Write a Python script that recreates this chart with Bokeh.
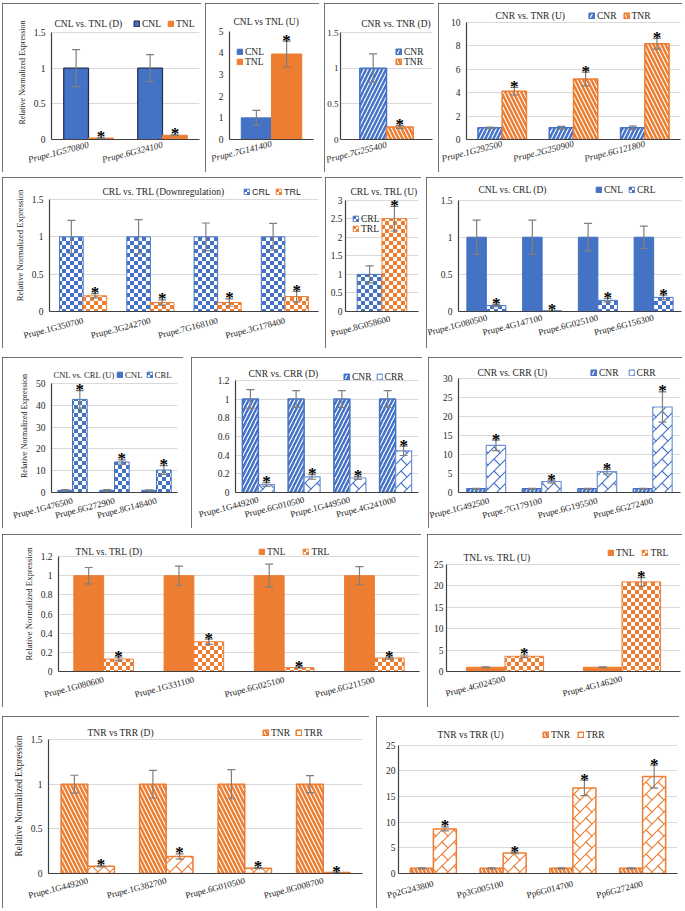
import math
from bokeh.plotting import figure
from bokeh.models import (FactorRange, Range1d, FixedTicker, NumeralTickFormatter,
                          ColumnDataSource, Legend, LegendItem, Spacer, CanvasTexture, Label)
from bokeh.transform import dodge
from bokeh.layouts import row, column
from bokeh.core.properties import value
from bokeh.embed import file_html
from bokeh.resources import INLINE

# ---------------- data ----------------
p1_genes = ["Prupe.1G570800", "Prupe.6G324100"]
p1_cnl = [1.0, 1.0]; p1_cnl_err = [0.26, 0.19]
p1_tnl = [0.02, 0.06]; p1_tnl_err = [0.004, 0.006]

p2_genes = ["Prupe.7G141400"]
p2_cnl = [1.0]; p2_cnl_err = [0.35]
p2_tnl = [3.95]; p2_tnl_err = [0.6]

p3_genes = ["Prupe.7G255400"]
p3_cnr = [1.0]; p3_cnr_err = [0.2]
p3_tnr = [0.175]; p3_tnr_err = [0.02]

p4_genes = ["Prupe.1G292500", "Prupe.2G250900", "Prupe.6G121800"]
p4_cnr = [1.0, 1.0, 1.0]; p4_cnr_err = [0.05, 0.12, 0.15]
p4_tnr = [4.12, 5.16, 8.18]; p4_tnr_err = [0.32, 0.58, 0.46]

p5_genes = ["Prupe.1G350700", "Prupe.3G242700", "Prupe.7G168100", "Prupe.3G178400"]
p5_crl = [1.0, 1.0, 1.0, 1.0]; p5_crl_err = [0.22, 0.23, 0.185, 0.18]
p5_trl = [0.21, 0.12, 0.12, 0.2]; p5_trl_err = [0.03, 0.035, 0.05, 0.07]

p6_genes = ["Prupe.8G058600"]
p6_crl = [1.0]; p6_crl_err = [0.23]
p6_trl = [2.5]; p6_trl_err = [0.33]

p7_genes = ["Prupe.1G080500", "Prupe.4G147100", "Prupe.6G025100", "Prupe.6G156300"]
p7_cnl = [1.0, 1.0, 1.0, 1.0]; p7_cnl_err = [0.23, 0.23, 0.185, 0.15]
p7_crl = [0.08, 0.01, 0.15, 0.19]; p7_crl_err = [0.015, 0.003, 0.025, 0.03]

p8_genes = ["Prupe.1G476500", "Prupe.6G272900", "Prupe.8G148400"]
p8_cnl = [1.0, 1.0, 1.0]; p8_cnl_err = [0.3, 0.3, 0.2]
p8_crl = [42.7, 14.0, 10.3]; p8_crl_err = [4.0, 1.0, 2.0]

p9_genes = ["Prupe.1G449200", "Prupe.6G010500", "Prupe.1G449500", "Prupe.4G241000"]
p9_cnr = [1.0, 1.0, 1.0, 1.0]; p9_cnr_err = [0.1, 0.09, 0.09, 0.09]
p9_crr = [0.085, 0.167, 0.155, 0.446]; p9_crr_err = [0.02, 0.025, 0.015, 0.05]

p10_genes = ["Prupe.1G492500", "Prupe.7G179100", "Prupe.6G195500", "Prupe.6G272400"]
p10_cnr = [1.0, 1.0, 1.0, 1.0]; p10_cnr_err = [0.1, 0.1, 0.1, 0.1]
p10_crr = [12.4, 2.9, 5.5, 22.5]; p10_crr_err = [1.4, 0.35, 0.6, 4.0]

p11_genes = ["Prupe.1G080600", "Prupe.1G331100", "Prupe.6G025100", "Prupe.6G211500"]
p11_tnl = [1.0, 1.0, 1.0, 1.0]; p11_tnl_err = [0.085, 0.1, 0.12, 0.095]
p11_trl = [0.13, 0.31, 0.04, 0.14]; p11_trl_err = [0.02, 0.027, 0.005, 0.01]

p12_genes = ["Prupe.4G024500", "Prupe.4G146200"]
p12_tnl = [1.0, 1.0]; p12_tnl_err = [0.1, 0.1]
p12_trl = [3.55, 20.9]; p12_trl_err = [0.3, 1.0]

p13_genes = ["Prupe.1G449200", "Prupe.1G382700", "Prupe.6G010500", "Prupe.8G008700"]
p13_tnr = [1.0, 1.0, 1.0, 1.0]; p13_tnr_err = [0.1, 0.155, 0.163, 0.095]
p13_trr = [0.08, 0.19, 0.06, 0.01]; p13_trr_err = [0.005, 0.03, 0.005, 0.002]

p14_genes = ["Pp2G243800", "Pp3G005100", "Pp6G014700", "Pp6G272400"]
p14_tnr = [1.0, 1.0, 1.0, 1.0]; p14_tnr_err = [0.1, 0.1, 0.1, 0.1]
p14_trr = [8.7, 4.0, 16.7, 18.9]; p14_trr_err = [0.4, 0.15, 1.5, 2.25]

# ---------------- styles ----------------
BLUE = "#4472C4"
ORANGE = "#ED7D31"
ERR = "#7F7F7F"
AXIS = "#404040"
GRID = "#D9D9D9"
TXT = "#262626"
SERIF = "Liberation Serif"
SANS = "Liberation Sans"
ANGLE = 0.25


def checker(color):
    code = ("var c = ctx.canvas; if (c) { c.width = 8; c.height = 8; }"
            "ctx.clearRect(0,0,8,8); ctx.fillStyle='%s';"
            "ctx.fillRect(0,0,4,4); ctx.fillRect(4,4,4,4);") % color
    return CanvasTexture(code=code)


def brick(color):
    code = ("var c = ctx.canvas; if (c) { c.width = 12; c.height = 12; }"
            "ctx.clearRect(0,0,12,12); ctx.strokeStyle='%s'; ctx.lineWidth=1.1;"
            "ctx.beginPath(); ctx.moveTo(-1,13); ctx.lineTo(13,-1);"
            "ctx.moveTo(6,6); ctx.lineTo(13,13); ctx.moveTo(-1,-1); ctx.lineTo(0.5,0.5);"
            "ctx.stroke();") % color
    return CanvasTexture(code=code)


def style_kw(style):
    if style == "solid_blue":
        return dict(fill_color=BLUE, line_color=BLUE, line_width=1)
    if style == "solid_blue_edge":
        return dict(fill_color=BLUE, line_color="#1F2D4F", line_width=1.2)
    if style == "solid_orange":
        return dict(fill_color=ORANGE, line_color=ORANGE, line_width=1)
    if style == "stripe_blue":
        return dict(fill_color="white", line_color=BLUE, line_width=1.5,
                    hatch_pattern="/", hatch_color=BLUE, hatch_scale=8, hatch_weight=2.5)
    if style == "stripe_orange":
        return dict(fill_color="white", line_color=ORANGE, line_width=1.5,
                    hatch_pattern="\\", hatch_color=ORANGE, hatch_scale=8, hatch_weight=2.5)
    if style == "checker_blue":
        return dict(fill_color="white", line_color=BLUE, line_width=1,
                    hatch_pattern=value("checker"), hatch_extra={"checker": checker(BLUE)},
                    hatch_scale=8, hatch_color=BLUE)
    if style == "checker_orange":
        return dict(fill_color="white", line_color=ORANGE, line_width=1,
                    hatch_pattern=value("checker"), hatch_extra={"checker": checker(ORANGE)},
                    hatch_scale=8, hatch_color=ORANGE)
    if style == "brick_blue":
        return dict(fill_color="white", line_color="#6F93D6", line_width=1.2,
                    hatch_pattern=value("brick"), hatch_extra={"brick": brick(BLUE)},
                    hatch_scale=12, hatch_color=BLUE)
    if style == "brick_orange":
        return dict(fill_color="white", line_color=ORANGE, line_width=1.5,
                    hatch_pattern=value("brick"), hatch_extra={"brick": brick(ORANGE)},
                    hatch_scale=12, hatch_color=ORANGE)
    raise ValueError(style)


def panel(box, frame, genes, series, names, styles, ymax, ystep, title, tpos,
          leg, bar_w, ylabel=None, ylabel_size="8px", italic=False, grid=True,
          tick_size="9.5px", tick_standoff=6, xl_size="9px", leg_font=SERIF, leg_size="9.5px",
          title_size="9.5px"):
    px0, px1, py0, py1 = box
    fl, fr, ft, fb = frame                 # plot area: left, right, y of ymax, y of zero
    W = px1 - px0
    H = py1 - py0
    ppu = (fb - ft) / ymax                 # pixels per data unit of the plot area
    top = py0 + 2                          # frame top (inside the border)
    ytop = (fb - top) / ppu
    cat_px = (fr - fl) / len(genes)
    p = figure(width=W, height=H, x_range=FactorRange(factors=genes), y_range=Range1d(0, ytop),
               min_border_left=fl - px0, min_border_right=px1 - fr,
               min_border_top=top - py0, min_border_bottom=py1 - fb,
               output_backend="svg", toolbar_location=None, tools="", title=None,
               background_fill_color="white", border_fill_color="white")
    p.styles = {"outline": "1.5px solid #444444", "outline-offset": "-1.5px"}
    p.outline_line_color = None

    rends = []
    for k, ((vals, errs), st) in enumerate(zip(series, styles)):
        off = (k - 0.5) * bar_w
        src = ColumnDataSource(dict(gene=genes, v=vals,
                                    lo=[v - e for v, e in zip(vals, errs)],
                                    hi=[v + e for v, e in zip(vals, errs)]))
        xs = dodge("gene", off, range=p.x_range)
        r = p.vbar(x=xs, top="v", bottom=0, width=bar_w, source=src, **style_kw(st))
        rends.append(r)
        p.segment(x0=xs, y0="lo", x1=xs, y1="hi", source=src, line_color=ERR, line_width=1.2)
        p.scatter(x=xs, y="hi", marker="dash", size=8, line_color=ERR, line_width=1.2, source=src)
        p.scatter(x=xs, y="lo", marker="dash", size=8, line_color=ERR, line_width=1.2, source=src)
        if k == 1:
            p.text(x=xs, y="hi", text=value("*"), source=src, text_align="center",
                   text_baseline="alphabetic", text_font=value(SERIF), text_font_style="bold",
                   text_font_size="17px", text_color="black", y_offset=-1)

    # title (inside the frame area above the plot)
    p.add_layout(Label(x=(tpos[0] - fl) / cat_px, y=(fb - tpos[1]) / ppu, text=title,
                       text_baseline="middle", text_align="left", text_font=SERIF,
                       text_font_size=title_size, text_color=TXT))

    # legend
    orient, lx, ly, spacing = leg
    items = [LegendItem(label=n, renderers=[r]) for n, r in zip(names, rends)]
    legend = Legend(items=items, orientation=orient, location=(lx - fl, fb - ly - 5.5),
                    padding=0, margin=0, spacing=spacing, glyph_width=7, glyph_height=7,
                    label_standoff=2, label_height=8, label_width=8,
                    label_text_font=leg_font, label_text_font_size=leg_size,
                    label_text_color=TXT, border_line_color=None, background_fill_alpha=0)
    p.add_layout(legend)

    # x axis: keep rotated labels inside the space below the plot
    avail = py1 - fb
    w_est = 4.4 * max(len(g) for g in genes)
    extent = w_est * math.sin(ANGLE) + 10 * math.cos(ANGLE) + 1.5
    standoff = int(max(2, min(12, avail - extent - 1)))
    xa = p.xaxis[0]
    xa.major_label_orientation = ANGLE
    xa.major_tick_line_color = None
    xa.minor_tick_line_color = None
    xa.major_tick_out = 0
    xa.major_tick_in = 0
    xa.axis_line_color = AXIS
    xa.axis_line_width = 1.2
    xa.major_label_text_font = SERIF
    xa.major_label_text_font_size = xl_size
    xa.major_label_text_font_style = "italic" if italic else "normal"
    xa.major_label_text_color = TXT
    xa.major_label_standoff = standoff

    ya = p.yaxis[0]
    n = int(round(ymax / ystep))
    ya.ticker = FixedTicker(ticks=[round(i * ystep, 6) for i in range(n + 1)])
    ya.formatter = NumeralTickFormatter(format="0.[0]")
    ya.bounds = (0, ymax)
    ya.major_tick_line_color = None
    ya.minor_tick_line_color = None
    ya.major_tick_out = 0
    ya.major_tick_in = 0
    ya.axis_line_color = AXIS
    ya.axis_line_width = 1.2
    ya.major_label_text_font = SERIF
    ya.major_label_text_font_size = tick_size
    ya.major_label_text_color = TXT
    ya.major_label_standoff = tick_standoff
    if ylabel:
        ya.axis_label = ylabel
        ya.axis_label_text_font = SERIF
        ya.axis_label_text_font_style = "normal"
        ya.axis_label_text_font_size = ylabel_size
        ya.axis_label_text_color = TXT
        ya.axis_label_standoff = 4

    p.xgrid.grid_line_color = None
    p.ygrid.grid_line_color = GRID if grid else None
    p.ygrid.grid_line_width = 1
    return p


YL = "Relative Normalized Expression"

P1 = panel((2, 201, 3, 172), (51, 199, 32, 139), p1_genes,
           [(p1_cnl, p1_cnl_err), (p1_tnl, p1_tnl_err)], ["CNL", "TNL"],
           ["solid_blue_edge", "solid_orange"], 1.5, 0.5, "CNL vs. TNL (D)", (54, 23),
           ("horizontal", 133, 23, 6), 0.335, ylabel=YL, ylabel_size="8px", italic=True)
P2 = panel((205, 319, 3, 172), (229, 313, 31, 140), p2_genes,
           [(p2_cnl, p2_cnl_err), (p2_tnl, p2_tnl_err)], ["CNL", "TNL"],
           ["solid_blue", "solid_orange"], 5, 1, "CNL vs TNL (U)", (233, 22),
           ("vertical", 236, 62, 0), 0.36, italic=True, grid=False)
P3 = panel((324, 434, 3, 172), (339, 432, 32, 139), p3_genes,
           [(p3_cnr, p3_cnr_err), (p3_tnr, p3_tnr_err)], ["CNR", "TNR"],
           ["stripe_blue", "stripe_orange"], 1.5, 0.5, "CNR vs. TNR (D)", (360, 23),
           ("vertical", 394, 61, 0), 0.29, italic=True, tick_size="9px", tick_standoff=2)
P4 = panel((438, 682, 3, 172), (466, 680, 22, 140), p4_genes,
           [(p4_cnr, p4_cnr_err), (p4_tnr, p4_tnr_err)], ["CNR", "TNR"],
           ["stripe_blue", "stripe_orange"], 10, 2, "CNR vs. TNR (U)", (495, 16),
           ("horizontal", 588, 16, 6), 0.34, italic=True)

P5 = panel((2, 322, 177, 348), (49, 318, 199, 311), p5_genes,
           [(p5_crl, p5_crl_err), (p5_trl, p5_trl_err)], ["CRL", "TRL"],
           ["checker_blue", "checker_orange"], 1.5, 0.5, "CRL vs. TRL (Downregulation)", (102, 191),
           ("horizontal", 243, 191, 5), 0.35, ylabel=YL, ylabel_size="8.6px",
           leg_font=SANS, leg_size="9px")
P6 = panel((325, 421, 177, 348), (345, 418, 200, 313), p6_genes,
           [(p6_crl, p6_crl_err), (p6_trl, p6_trl_err)], ["CRL", "TRL"],
           ["checker_blue", "checker_orange"], 3, 0.5, "CRL vs. TRL (U)", (350, 192),
           ("vertical", 352, 230, 0), 0.34, tick_standoff=3)
P7 = panel((426, 683, 177, 348), (458, 681, 200, 314), p7_genes,
           [(p7_cnl, p7_cnl_err), (p7_crl, p7_crl_err)], ["CNL", "CRL"],
           ["solid_blue", "checker_blue"], 1.5, 0.5, "CNL vs. CRL (D)", (478, 190),
           ("horizontal", 595, 192, 5), 0.35)

P8 = panel((2, 183, 357, 528), (51, 177, 383, 492), p8_genes,
           [(p8_cnl, p8_cnl_err), (p8_crl, p8_crl_err)], ["CNL", "CRL"],
           ["solid_blue", "checker_blue"], 50, 10, "CNL vs. CRL (U)", (53, 374),
           ("horizontal", 116, 374, 3), 0.35, ylabel=YL, ylabel_size="8px",
           title_size="8.5px", leg_size="8.8px")
P9 = panel((191, 422, 357, 528), (235, 418, 380, 493), p9_genes,
           [(p9_cnr, p9_cnr_err), (p9_crr, p9_crr_err)], ["CNR", "CRR"],
           ["stripe_blue", "brick_blue"], 1.2, 0.2, "CNR vs. CRR (D)", (248, 374),
           ("horizontal", 343, 377, 4), 0.35)
P10 = panel((428, 682, 357, 528), (458, 680, 378, 492), p10_genes,
            [(p10_cnr, p10_cnr_err), (p10_crr, p10_crr_err)], ["CNR", "CRR"],
            ["stripe_blue", "brick_blue"], 30, 5, "CNR vs. CRR (U)", (477, 372),
            ("horizontal", 590, 372, 9), 0.35)

P11 = panel((2, 421, 534, 707), (58, 419, 556, 671), p11_genes,
            [(p11_tnl, p11_tnl_err), (p11_trl, p11_trl_err)], ["TNL", "TRL"],
            ["solid_orange", "checker_orange"], 1.2, 0.2, "TNL vs. TRL (D)", (75, 551),
            ("horizontal", 258, 551, 17), 0.33, ylabel=YL, ylabel_size="8.7px")
P12 = panel((427, 682, 534, 707), (446, 680, 564, 672), p12_genes,
            [(p12_tnl, p12_tnl_err), (p12_trl, p12_trl_err)], ["TNL", "TRL"],
            ["solid_orange", "checker_orange"], 25, 5, "TNL vs. TRL (U)", (463, 558),
            ("horizontal", 607, 553, 7), 0.33, tick_standoff=3)

P13 = panel((2, 369, 716, 908), (48, 362, 739, 873), p13_genes,
            [(p13_tnr, p13_tnr_err), (p13_trr, p13_trr_err)], ["TNR", "TRR"],
            ["stripe_orange", "brick_orange"], 1.5, 0.5, "TNR vs TRR (D)", (87, 732),
            ("horizontal", 262, 732, 5), 0.34, ylabel=YL, ylabel_size="9.3px")
P14 = panel((376, 679, 716, 908), (398, 677, 745, 874), p14_genes,
            [(p14_tnr, p14_tnr_err), (p14_trr, p14_trr_err)], ["TNR", "TRR"],
            ["stripe_orange", "brick_orange"], 25, 5, "TNR vs TRR (U)", (437, 735),
            ("horizontal", 542, 735, 7), 0.33, tick_standoff=3)


def gap(w, h):
    return Spacer(width=w, height=h)


r1 = row(gap(2, 169), P1, gap(4, 169), P2, gap(5, 169), P3, gap(4, 169), P4)
r2 = row(gap(2, 171), P5, gap(3, 171), P6, gap(5, 171), P7)
r3 = row(gap(2, 171), P8, gap(8, 171), P9, gap(6, 171), P10)
r4 = row(gap(2, 173), P11, gap(6, 173), P12)
r5 = row(gap(2, 192), P13, gap(7, 192), P14)
layout = column(gap(683, 3), r1, gap(683, 5), r2, gap(683, 9), r3, gap(683, 6), r4,
                gap(683, 9), r5)

open("out.html", "w").write(file_html(layout, INLINE))
